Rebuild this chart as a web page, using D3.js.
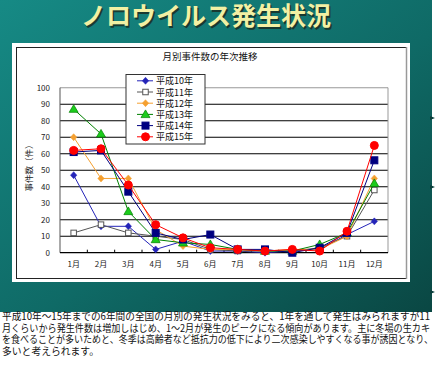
<!DOCTYPE html>
<html>
<head>
<meta charset="utf-8">
<script src="https://cdn.jsdelivr.net/npm/d3@7"></script>
<style>
  html, body { margin:0; padding:0; background:#fff; }
  svg { display:block; font-family:"Noto Sans CJK JP", sans-serif; }
</style>
</head>
<body>
<svg id="chart" width="439" height="366"></svg>
<script>
// ---- datos ----
const months = ["1月","2月","3月","4月","5月","6月","7月","8月","9月","10月","11月","12月"];
const seriesNames = ["平成10年","平成11年","平成12年","平成13年","平成14年","平成15年"];
const h10 = [47, 16, 16, 2, 7, 1, 1, 0, 1, 2, 11, 19];
const h11 = [12, 17, 12, 10, 8, 2, 1, 1, 1, 3, 10, 38];
const h12 = [70, 45, 45, 14, 4, 2, 2, 1, 2, 2, 10, 45];
const h13 = [87, 72, 25, 8, 6, 5, 2, 1, 1, 5, 12, 42];
const h14 = [61, 62, 37, 12, 8, 11, 2, 2, 0, 3, 12, 56];
const h15 = [62, 63, 41, 17, 9, 3, 2, 1, 2, 1, 13, 65];
const yTicks = [0,10,20,30,40,50,60,70,80,90,100];

const slideTitle = "ノロウイルス発生状況";
const chartTitle = "月別事件数の年次推移";
const yTitle = "事件数（件）";
const bodyLines = [
  "平成10年～15年までの6年間の全国の月別の発生状況をみると、1年を通して発生はみられますが11",
  "月くらいから発生件数は増加しはじめ、1～2月が発生のピークになる傾向があります。主に冬場の生カキ",
  "を食べることが多いためと、冬季は高齢者など抵抗力の低下により二次感染しやすくなる事が誘因となり、",
  "多いと考えられます。"
];

// estilos de cada serie
const styles = [
  { line:"#2424b8", fill:"#2424b8", stroke:"#2424b8", shape:"diamond" },
  { line:"#555555", fill:"#ffffff", stroke:"#555555", shape:"square", size:5.5 },
  { line:"#f5a030", fill:"#f5a030", stroke:"#f5a030", shape:"diamond" },
  { line:"#008000", fill:"#1ccc1c", stroke:"#008000", shape:"triangle" },
  { line:"#000080", fill:"#000080", stroke:"#000080", shape:"square", size:7 },
  { line:"#ff0000", fill:"#ff0000", stroke:"#ff0000", shape:"circle" }
];
const series = [h10,h11,h12,h13,h14,h15].map((vals,i)=>({ name:seriesNames[i], vals, st:styles[i] }));

const svg = d3.select("#chart");

// fondo de diapositiva
const defs = svg.append("defs");
const grad = defs.append("linearGradient").attr("id","bg")
  .attr("x1","0").attr("y1","0").attr("x2","1").attr("y2","1");
grad.append("stop").attr("offset","0").attr("stop-color","#168a85");
grad.append("stop").attr("offset","0.55").attr("stop-color","#0f6a66");
grad.append("stop").attr("offset","1").attr("stop-color","#0a4743");

svg.append("rect").attr("x",0).attr("y",0).attr("width",432).attr("height",312).attr("fill","url(#bg)");

// pequeñas marcas a la derecha
[118,187,292].forEach(yy=>{
  svg.append("path").attr("d",`M430,${yy-2}L435,${yy}L430,${yy+2}Z`).attr("fill","#0b3f3c");
});

// título principal
svg.append("text").attr("x",207.5).attr("y",26.5).attr("text-anchor","middle")
  .style("font-size","25px").style("font-weight","700").attr("fill","#1a2a20").attr("opacity",0.8)
  .text(slideTitle);
svg.append("text").attr("x",206).attr("y",25).attr("text-anchor","middle")
  .style("font-size","25px").style("font-weight","700").attr("fill","#f2f0a4")
  .text(slideTitle);

// panel blanco del gráfico
svg.append("rect").attr("x",12).attr("y",43).attr("width",398).attr("height",239).attr("fill","#fff");
svg.append("rect").attr("x",16.5).attr("y",47.5).attr("width",390).attr("height",231)
  .attr("fill","none").attr("stroke","#222").attr("stroke-width",1);
svg.append("line").attr("x1",406.5).attr("x2",406.5).attr("y1",47).attr("y2",279)
  .attr("stroke","#999").attr("stroke-width",1.5);

// escalas
const x = d3.scaleBand().domain(months).range([60, 388]);
const y = d3.scaleLinear().domain([0,100]).range([252.7, 87.7]);
const cx = m => x(m) + x.bandwidth()/2;

// título del gráfico
svg.append("text").attr("x",210).attr("y",60).attr("text-anchor","middle")
  .style("font-size","9.5px").attr("fill","#111").text(chartTitle);

// cuadrícula
const g = svg.append("g");
g.selectAll("line.grid").data(yTicks.filter(t=>t>0)).enter().append("line")
  .attr("class","grid")
  .attr("x1",60).attr("x2",388)
  .attr("y1",d=>y(d)).attr("y2",d=>y(d))
  .attr("stroke",d=>d===100?"#999":"#000").attr("stroke-width",1.1);
g.append("line").attr("x1",388).attr("x2",388).attr("y1",y(100)).attr("y2",y(0))
  .attr("stroke","#999").attr("stroke-width",1);

// ejes
g.append("line").attr("x1",60).attr("x2",60).attr("y1",y(100)).attr("y2",y(0))
  .attr("stroke","#555").attr("stroke-width",1);
g.append("line").attr("x1",60).attr("x2",388).attr("y1",y(0)).attr("y2",y(0))
  .attr("stroke","#000").attr("stroke-width",1.2);

g.selectAll("line.xt").data(months.slice(1)).enter().append("line")
  .attr("class","xt")
  .attr("x1",d=>x(d)).attr("x2",d=>x(d))
  .attr("y1",y(0)).attr("y2",y(0)-3).attr("stroke","#000");

g.selectAll("text.yl").data(yTicks).enter().append("text")
  .attr("class","yl")
  .attr("x",50).attr("y",d=>y(d)+3)
  .attr("text-anchor","end").style("font-size","8px").attr("fill","#222")
  .text(d=>d);

g.selectAll("text.xl").data(months).enter().append("text")
  .attr("class","xl")
  .attr("x",d=>cx(d)).attr("y",267)
  .attr("text-anchor","middle").style("font-size","8px").attr("fill","#222")
  .text(d=>d);

svg.append("text")
  .attr("transform","translate(32,166) rotate(-90)")
  .attr("text-anchor","middle").style("font-size","8.5px").attr("fill","#222")
  .text(yTitle);

// marcadores
function marker(sel, st){
  if (st.shape === "circle"){
    sel.append("circle").attr("r",4).attr("fill",st.fill).attr("stroke",st.stroke);
  } else if (st.shape === "square"){
    const s = st.size;
    sel.append("rect").attr("x",-s/2).attr("y",-s/2).attr("width",s).attr("height",s)
      .attr("fill",st.fill).attr("stroke",st.stroke).attr("stroke-width",1);
  } else if (st.shape === "diamond"){
    sel.append("path").attr("d","M0,-3.5L3.2,0L0,3.5L-3.2,0Z").attr("fill",st.fill).attr("stroke",st.stroke).attr("stroke-width",0.5);
  } else {
    sel.append("path").attr("d","M0,-4.5L4.5,3.2L-4.5,3.2Z").attr("fill",st.fill).attr("stroke",st.stroke).attr("stroke-width",0.7);
  }
}

const line = d3.line().x((d,i)=>cx(months[i])).y(d=>y(d));

series.forEach(s=>{
  const sg = svg.append("g");
  sg.append("path").attr("d",line(s.vals)).attr("fill","none")
    .attr("stroke",s.st.line).attr("stroke-width",1);
  sg.selectAll("g.pt").data(s.vals).enter().append("g")
    .attr("class","pt")
    .attr("transform",(d,i)=>`translate(${cx(months[i])},${y(d)})`)
    .each(function(){ marker(d3.select(this), s.st); });
});

// leyenda
const lg = svg.append("g");
lg.append("rect").attr("x",126).attr("y",74.5).attr("width",79).attr("height",69.5)
  .attr("fill","#fff").attr("stroke","#333").attr("stroke-width",1);
series.forEach((s,i)=>{
  const yy = 80.8 + i*11.2;
  const row = lg.append("g");
  row.append("line").attr("x1",137).attr("x2",153).attr("y1",yy).attr("y2",yy)
    .attr("stroke",s.st.line).attr("stroke-width",1);
  marker(row.append("g").attr("transform",`translate(145.5,${yy})`), s.st);
  row.append("text").attr("x",156).attr("y",yy+3.5).style("font-size","9px").attr("fill","#111")
    .text(s.name);
});

// texto inferior
const lens = [428, 428, 431, null];
bodyLines.forEach((t,i)=>{
  const tx = svg.append("text").attr("x",2).attr("y",320 + i*11.6)
    .style("font-size","9.8px").attr("fill","#111").text(t);
  if (lens[i]) tx.attr("textLength",lens[i]).attr("lengthAdjust","spacingAndGlyphs");
});
</script>
</body>
</html>
